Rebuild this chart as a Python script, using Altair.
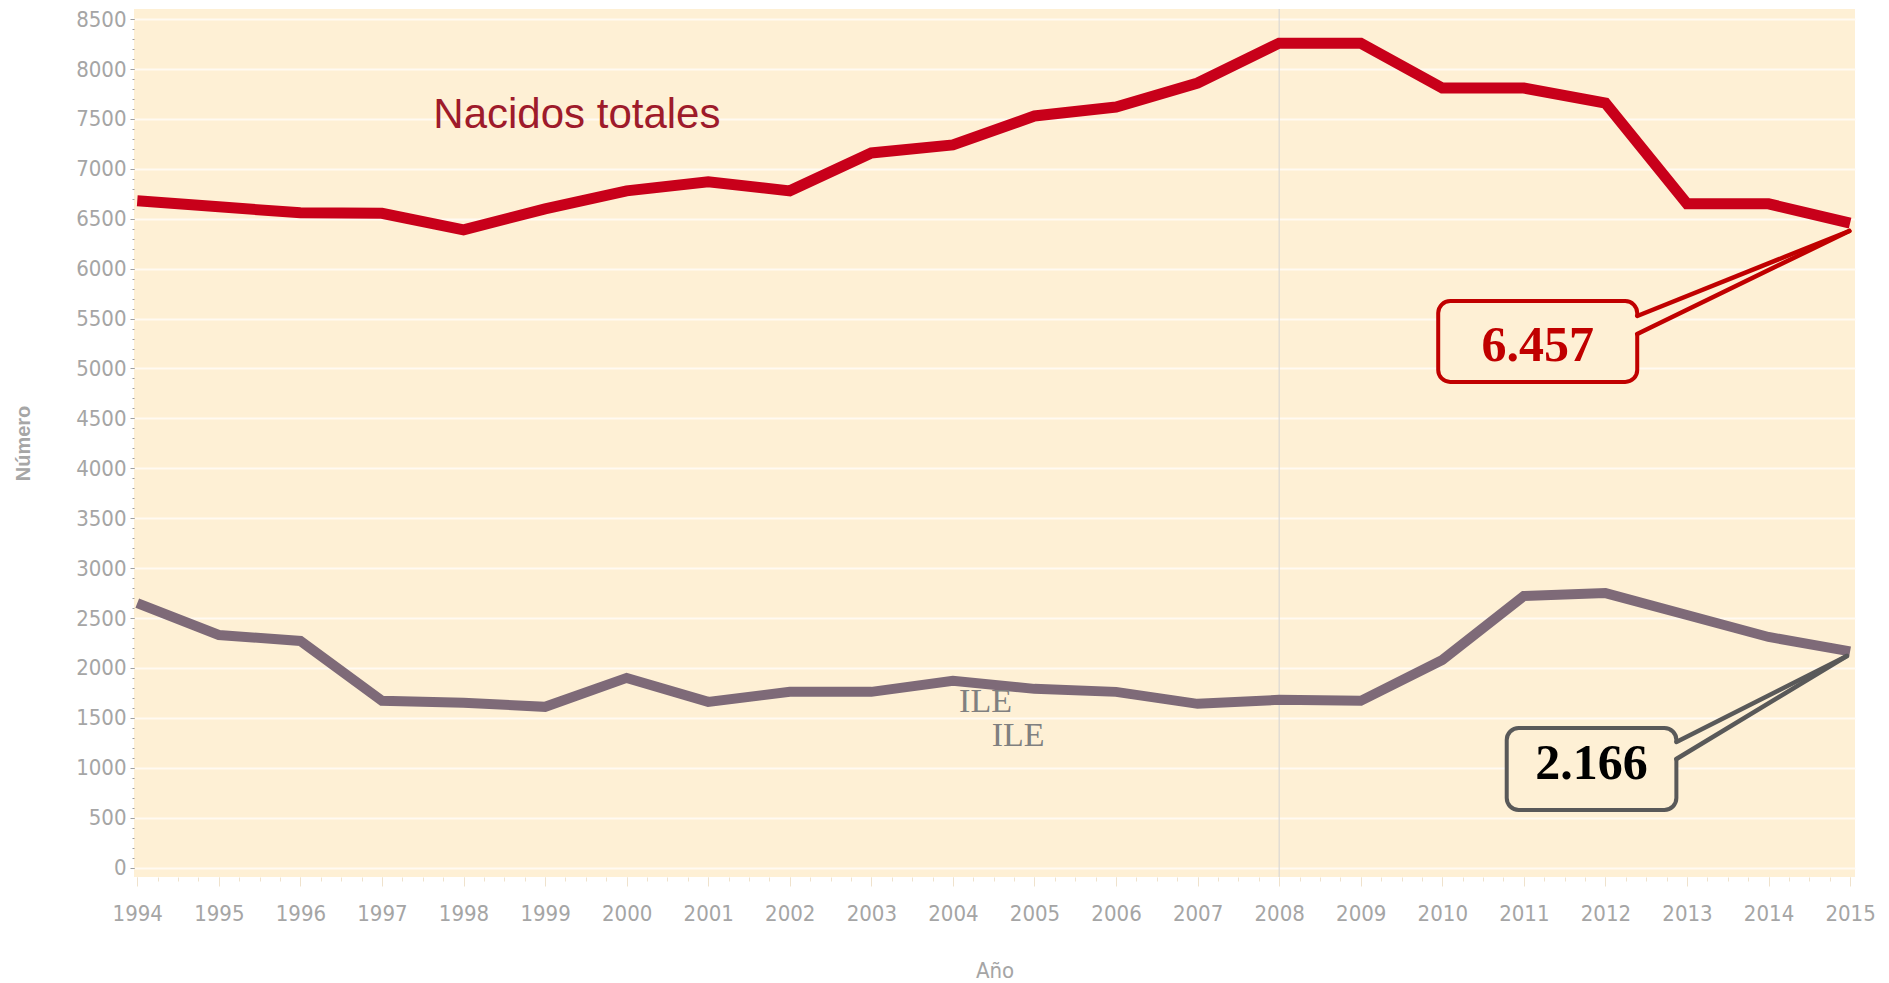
import altair as alt
import pandas as pd

# ---- data ----
years = list(range(1994, 2016))
nacidos = [6680, 6620, 6560, 6555, 6390, 6600, 6780, 6870, 6780, 7160, 7240,
           7530, 7620, 7860, 8260, 8260, 7810, 7810, 7660, 6650, 6650, 6457]
ile = [2650, 2330, 2270, 1670, 1650, 1610, 1900, 1660, 1760, 1760, 1870,
       1790, 1760, 1640, 1680, 1670, 2080, 2720, 2750, 2530, 2310, 2166]

y_ticks = list(range(0, 8501, 500))
y_minor_ticks = list(range(0, 8501, 100))
x_minor_ticks = [1994 + i * 0.25 for i in range(85)]

vline_year = [2008]

series_label = ["Nacidos totales"]
series_label_x = [1999.39]
series_label_y = [7540]

ile_labels = ["ILE", "ILE"]
ile_label_x = [2004.40, 2004.80]
ile_label_y = [1558, 1217]

callout_text = ["6.457", "2.166"]
callout_stroke = ["#c00000", "#595959"]
callout_textcolor = ["#c00000", "#000000"]
box_x1 = [2009.95, 2010.79]
box_x2 = [2012.39, 2012.87]
box_y1 = [5676, 1398]
box_y2 = [4865, 576]
tail_upper = [5526, 1258]
tail_lower = [5346, 1087]
tip_x = [2014.99, 2014.96]
tip_y = [6378, 2119]
text_x = [2011.17, 2011.83]
text_y = [5230, 1040]

BG = "#fef0d5"
RED = "#c8001a"
ILE_C = "#7e6a78"
LABEL_C = "#a5a5a5"
NARROW = "'Liberation Sans Narrow', 'DejaVu Sans Condensed', 'Arial Narrow', 'Roboto Condensed', sans-serif"

df = pd.DataFrame({"year": years, "nacidos": nacidos, "ile": ile})

xscale = alt.Scale(domain=[1993.96, 2015.06], nice=False, zero=False)
yscale = alt.Scale(domain=[-95, 8602], nice=False, zero=False)

x_main = alt.Axis(values=years, format="d", orient="bottom", tickSize=9,
                  tickColor="#efe2cc", domain=False, grid=False,
                  labelFont=NARROW, labelFontSize=22, labelColor=LABEL_C,
                  labelPadding=17, labelFlush=False, labelOverlap=False,
                  title="Año", titleFont=NARROW, titleFontSize=22,
                  titleFontWeight="normal", titleColor=LABEL_C, titlePadding=36)
x_minor = alt.Axis(values=x_minor_ticks, orient="bottom", tickSize=4,
                   tickColor="#efe2cc", domain=False, grid=False, labels=False,
                   title=None)
y_main = alt.Axis(values=y_ticks, format="d", orient="left", tickSize=4, tickColor="#a0a0a0",
                  domain=False, grid=True, gridColor="#fffaf2", gridWidth=2,
                  labelFont=NARROW, labelFontSize=22, labelColor=LABEL_C,
                  labelPadding=4, labelFlush=False, labelOverlap=False,
                  title="Número", titleFont="Liberation Sans", titleFontSize=20,
                  titleFontWeight="bold", titleColor="#a6a6a6", titlePadding=42)
y_minor = alt.Axis(values=y_minor_ticks, orient="left", tickSize=2,
                   tickColor="#a0a0a0", domain=False, grid=False, labels=False,
                   title=None)

base = alt.Chart(df)

vline = alt.Chart(pd.DataFrame({"year": vline_year})).mark_rule(
    color="#d3d3d3", strokeWidth=1
).encode(x=alt.X("year:Q", scale=xscale, axis=None))

red_line = base.mark_line(color=RED, strokeWidth=11).encode(
    x=alt.X("year:Q", scale=xscale, axis=x_main),
    y=alt.Y("nacidos:Q", scale=yscale, axis=y_main),
)
ile_line = base.mark_line(color=ILE_C, strokeWidth=10).encode(
    x=alt.X("year:Q", scale=xscale, axis=x_minor),
    y=alt.Y("ile:Q", scale=yscale, axis=y_minor),
)

lbl = alt.Chart(pd.DataFrame({"t": series_label, "x": series_label_x, "y": series_label_y})).mark_text(
    font="Liberation Sans", fontSize=42, color="#9e1b2b", align="center", baseline="middle"
).encode(x=alt.X("x:Q", scale=xscale, axis=None), y=alt.Y("y:Q", scale=yscale, axis=None), text="t:N")

ile_lbl = alt.Chart(pd.DataFrame({"t": ile_labels, "x": ile_label_x, "y": ile_label_y})).mark_text(
    font="Liberation Serif", fontSize=34, color="#808080", align="center", baseline="alphabetic"
).encode(x=alt.X("x:Q", scale=xscale, axis=None), y=alt.Y("y:Q", scale=yscale, axis=None), text="t:N")

cdf = pd.DataFrame({
    "t": callout_text, "stroke": callout_stroke, "tcol": callout_textcolor,
    "x1": box_x1, "x2": box_x2, "y1": box_y1, "y2": box_y2,
    "tx": text_x, "ty": text_y,
})

boxes = alt.Chart(cdf).mark_rect(fill=BG, strokeWidth=4, cornerRadius=12).encode(
    x=alt.X("x1:Q", scale=xscale, axis=None), x2="x2:Q",
    y=alt.Y("y1:Q", scale=yscale, axis=None), y2="y2:Q",
    stroke=alt.Stroke("stroke:N", scale=None),
)

wedge_rows = []
tail_rows = []
for i in range(len(callout_text)):
    wedge_rows.append({"id": i, "x": box_x2[i] - 0.04, "ya": tail_upper[i], "yb": tail_lower[i]})
    wedge_rows.append({"id": i, "x": tip_x[i], "ya": tip_y[i], "yb": tip_y[i]})
    for ys in (tail_upper[i], tail_lower[i]):
        tail_rows.append({"id": i, "x": box_x2[i], "y": ys, "xe": tip_x[i], "ye": tip_y[i],
                          "stroke": callout_stroke[i]})

wedges = alt.Chart(pd.DataFrame(wedge_rows)).mark_area(fill=BG, opacity=1).encode(
    x=alt.X("x:Q", scale=xscale, axis=None),
    y=alt.Y("ya:Q", scale=yscale, axis=None, stack=None), y2="yb:Q",
    detail="id:N",
)
tails = alt.Chart(pd.DataFrame(tail_rows)).mark_rule(strokeWidth=4.5, strokeCap="round").encode(
    x=alt.X("x:Q", scale=xscale, axis=None), x2="xe:Q",
    y=alt.Y("y:Q", scale=yscale, axis=None), y2="ye:Q",
    color=alt.Color("stroke:N", scale=None),
)
ctext = alt.Chart(cdf).mark_text(
    font="Liberation Serif", fontSize=50, fontWeight="bold", align="center", baseline="middle"
).encode(
    x=alt.X("tx:Q", scale=xscale, axis=None), y=alt.Y("ty:Q", scale=yscale, axis=None),
    text="t:N", color=alt.Color("tcol:N", scale=None),
)

chart = alt.layer(
    vline, red_line, ile_line, lbl, ile_lbl, boxes, wedges, tails, ctext
).resolve_axis(x="independent", y="independent").properties(
    width=1721, height=868, padding={"left": 5, "top": 0, "right": 5, "bottom": 5},
    background="white",
).configure_view(fill=BG, stroke=None)

chart.save("out.html", embed_options={"renderer": "svg", "actions": False})
